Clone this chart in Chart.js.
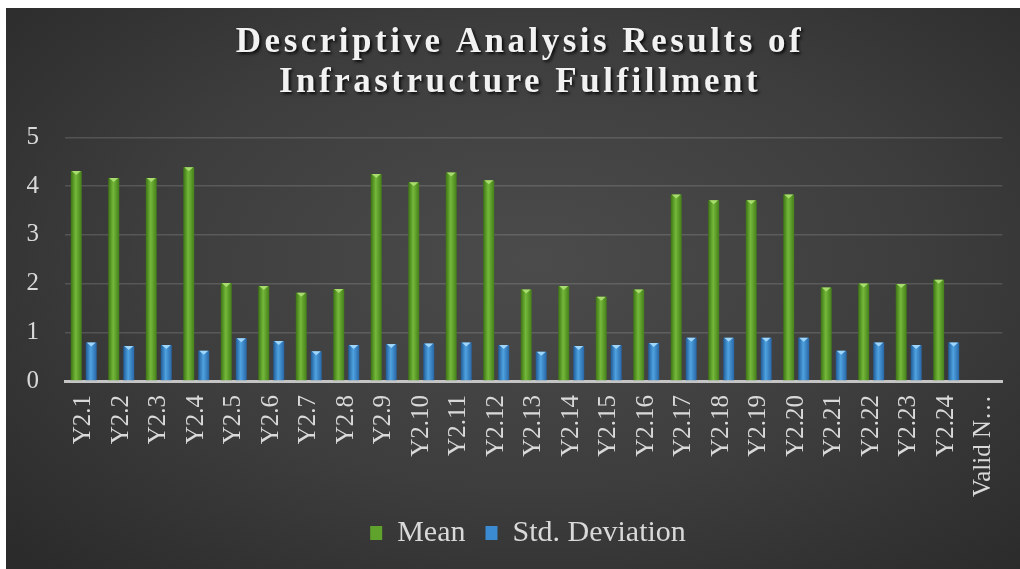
<!DOCTYPE html>
<html>
<head>
<meta charset="utf-8">
<script src="https://cdn.jsdelivr.net/npm/chart.js@4.4.1/dist/chart.umd.min.js"></script>
<style>
  html, body { margin: 0; background: #fff; }
  #wrap { position: absolute; left: 6px; top: 8px; width: 1014px; height: 561px; }
  #chart { background: radial-gradient(ellipse 70% 75% at 52% 45%, #4b4b4b 0%, #3d3d3d 55%, #2b2b2b 100%); }
</style>
</head>
<body>
<div id="wrap"><canvas id="chart" width="1014" height="561"></canvas></div>
<script>
// values
const categories = ['Y2.1', 'Y2.2', 'Y2.3', 'Y2.4', 'Y2.5', 'Y2.6', 'Y2.7', 'Y2.8',
  'Y2.9', 'Y2.10', 'Y2.11', 'Y2.12', 'Y2.13', 'Y2.14', 'Y2.15', 'Y2.16',
  'Y2.17', 'Y2.18', 'Y2.19', 'Y2.20', 'Y2.21', 'Y2.22', 'Y2.23', 'Y2.24', 'Valid N…'];
const meanValues = [4.31, 4.17, 4.17, 4.39, 2.01, 1.95, 1.81, 1.89,
  4.25, 4.08, 4.28, 4.12, 1.88, 1.95, 1.73, 1.88,
  3.83, 3.71, 3.71, 3.83, 1.92, 2.00, 1.99, 2.08, null];
const stdValues = [0.79, 0.72, 0.74, 0.62, 0.88, 0.82, 0.61, 0.74,
  0.76, 0.77, 0.79, 0.74, 0.60, 0.72, 0.74, 0.78,
  0.89, 0.89, 0.89, 0.89, 0.62, 0.79, 0.74, 0.79, null];
const yTicks = [0, 1, 2, 3, 4, 5];
const titleLines = ['Descriptive Analysis Results of', 'Infrastructure Fulfillment'];

const serif = "'Liberation Serif', 'DejaVu Serif', serif";
const textColor = '#d9d9d9';

// per-series shading: [edge, middle, edge, top highlight]
const shades = [
  ['#3d7414', '#74b83a', '#457f1a', '#a8dc6e'],
  ['#1f5c98', '#4fa2e0', '#2866a6', '#9fd6fb']
];

// horizontal gradient on each bar plus the small light cap at its top
const barShade = {
  id: 'barShade',
  beforeDatasetsDraw(chart) {
    const ctx = chart.ctx;
    chart.data.datasets.forEach((ds, i) => {
      const s = shades[i];
      chart.getDatasetMeta(i).data.forEach(bar => {
        const left = bar.x - bar.width / 2;
        const g = ctx.createLinearGradient(left, 0, left + bar.width, 0);
        g.addColorStop(0, s[0]);
        g.addColorStop(0.45, s[1]);
        g.addColorStop(1, s[2]);
        bar.options = { ...bar.options, backgroundColor: g };
      });
    });
  },
  afterDatasetsDraw(chart) {
    const ctx = chart.ctx;
    ctx.save();
    chart.data.datasets.forEach((ds, i) => {
      ctx.fillStyle = shades[i][3];
      chart.getDatasetMeta(i).data.forEach((bar, j) => {
        if (ds.data[j] == null) return;
        const half = bar.width / 2;
        ctx.beginPath();
        ctx.moveTo(bar.x - half + 1, bar.y);
        ctx.lineTo(bar.x + half - 1, bar.y);
        ctx.lineTo(bar.x, bar.y + 4);
        ctx.closePath();
        ctx.fill();
      });
    });
    ctx.restore();
  }
};

// wrap a layout box's draw: nudge it sideways and apply extra canvas styling
function restyle(box, dx, style) {
  if (!box || box._restyled) return;
  const draw = box.draw.bind(box);
  box.draw = function (area) {
    const ctx = box.ctx;
    ctx.save();
    ctx.translate(dx, 0);
    Object.assign(ctx, style);
    draw(area);
    ctx.restore();
  };
  box._restyled = true;
}

const boxStyle = {
  id: 'boxStyle',
  beforeDraw(chart) {
    // spaced, shadowed title like the reference
    restyle(chart.titleBlock, 6, {
      letterSpacing: '3.5px',
      shadowColor: 'rgba(0,0,0,0.8)',
      shadowOffsetX: 2,
      shadowOffsetY: 2,
      shadowBlur: 3
    });
    restyle(chart.legend, 14, {});
  }
};

new Chart(document.getElementById('chart'), {
  type: 'bar',
  data: {
    labels: categories,
    datasets: [
      { label: 'Mean', data: meanValues, backgroundColor: '#5fa22c' },
      { label: 'Std. Deviation', data: stdValues, backgroundColor: '#3b8bd3' }
    ]
  },
  options: {
    responsive: false,
    animation: false,
    categoryPercentage: 0.8,
    barPercentage: 0.73,
    layout: { padding: { top: 5, right: 16, bottom: 11, left: 18 } },
    plugins: {
      title: {
        display: true,
        text: titleLines,
        color: '#f2f2f2',
        font: { family: serif, size: 35, weight: 'bold', lineHeight: 1.15 },
        padding: { top: 10, bottom: 34 }
      },
      legend: {
        position: 'bottom',
        labels: {
          color: textColor,
          font: { family: serif, size: 30 },
          boxWidth: 12,
          boxHeight: 14,
          padding: 20
        }
      },
      tooltip: { enabled: false }
    },
    scales: {
      x: {
        grid: { display: false },
        border: { color: '#c4c4c4', width: 3 },
        ticks: {
          color: textColor,
          font: { family: serif, size: 25 },
          minRotation: 90,
          maxRotation: 90,
          autoSkip: false,
          padding: 6
        },
        afterFit(scale) { scale.height = 117; }
      },
      y: {
        min: 0,
        max: 5,
        border: { display: false },
        grid: { color: 'rgba(255,255,255,0.14)', lineWidth: 1.5, drawTicks: false },
        afterBuildTicks(scale) { scale.ticks = yTicks.map(v => ({ value: v })); },
        ticks: {
          color: textColor,
          font: { family: serif, size: 25 },
          padding: 26
        },
        afterFit(scale) { scale.width = 41; }
      }
    }
  },
  plugins: [barShade, boxStyle]
});
</script>
</body>
</html>
